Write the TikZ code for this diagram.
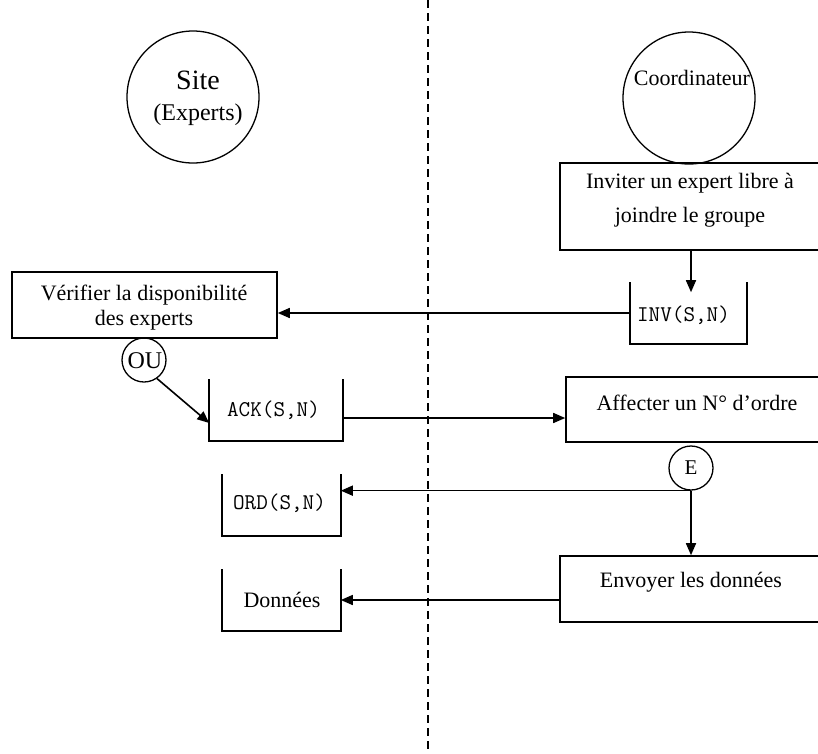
\documentclass[tikz,border=0pt]{standalone}
\usepackage{fontspec}
\setmainfont{Liberation Serif}
\usetikzlibrary{arrows.meta,calc}
\begin{document}
\begin{tikzpicture}[x=1pt,y=-1pt,
  line width=1.6pt,
  box/.style={draw, rectangle, inner sep=0pt},
  openbox/.style={rectangle, inner sep=0pt},
  lbl/.style={inner sep=0pt, align=center, font=\fontsize{22}{25}\selectfont},
  msg/.style={inner sep=0pt, font=\fontsize{22.5}{25}\selectfont\ttfamily},
  circ/.style={draw, circle, inner sep=0pt, line width=1.3pt},
  arr/.style={-{Triangle[length=12pt,width=10pt]}},
  lane/.style={dash pattern=on 8pt off 5pt, line width=1.4pt}]
\useasboundingbox (0,0) rectangle (818,753);
\clip (0,0) rectangle (818,753);

% swimlane separator
\coordinate (lanetop) at (428,0);
\coordinate (lanebot) at (428,753);
\draw[lane] (lanetop) -- (lanebot);

% actors
\node[circ, minimum size=132pt] (site) at (193,97) {};
\node[inner sep=0pt, font=\fontsize{28}{30}\selectfont] (sitetxt) at (198,80) {Site};
\node[inner sep=0pt, font=\fontsize{24}{26}\selectfont] (exptxt) at (198,115) {(Experts)};
\node[circ, minimum size=132pt] (coord) at (689,98) {};
\node[lbl] (coordtxt) at (692,78) {Coordinateur};

% activities
\node[box, minimum width=262pt, minimum height=87pt] (invite) at (691,206.5) {};
\node[lbl, font=\fontsize{22}{34}\selectfont] (invitetxt) at (690,200) {Inviter un expert libre à\\joindre le groupe};
\node[box, minimum width=265pt, minimum height=66pt] (verif) at (144.5,305) {};
\node[lbl] (veriftxt) at (144,308) {Vérifier la disponibilité\\des experts};
\node[box, minimum width=256pt, minimum height=65pt] (aff) at (694,409.5) {};
\node[lbl] (afftxt) at (697,403) {Affecter un N° d’ordre};
\node[box, minimum width=262pt, minimum height=66pt] (env) at (691,589) {};
\node[lbl] (envtxt) at (691,582) {Envoyer les données};

% messages (open-top boxes)
\node[openbox, minimum width=115pt, minimum height=60pt] (inv) at (688.5,313) {};
\node[msg] (invtxt) at (683.5,315) {INV(S,N)};
\node[openbox, minimum width=132pt, minimum height=60pt] (ack) at (276,410) {};
\node[msg] (acktxt) at (273.5,410) {ACK(S,N)};
\node[openbox, minimum width=117pt, minimum height=60pt] (ord) at (281.5,505) {};
\node[msg] (ordtxt) at (279.5,503) {ORD(S,N)};
\node[openbox, minimum width=117pt, minimum height=60pt] (don) at (281.5,600) {};
\node[lbl] (dontxt) at (282,600) {Données};
\foreach \n in {inv,ack,ord,don}
  \draw (\n.north west) -- (\n.south west) -- (\n.south east) -- (\n.north east);

% connectors
\node[circ, minimum size=44pt] (ou) at (144,360) {};
\node[inner sep=0pt, font=\fontsize{24}{26}\selectfont] (outxt) at (145,361) {OU};
\node[circ, minimum size=44pt] (e) at (691,468) {};
\node[inner sep=0pt, font=\fontsize{21}{23}\selectfont] (etxt) at (691,468) {E};

% flows
\coordinate (invtip) at ($(inv.north)+(0,10)$);
\draw[arr] (invite.south) -- (invite.south |- invtip);
\draw[arr] (inv.west) -- (inv.west -| verif.east);
\coordinate (ackin) at ($(ack.west)+(0,13)$);
\draw[arr] (ou.-55) -- (ackin);
\coordinate (ackout) at ($(ack.east)+(0,8)$);
\draw[arr] (ackout) -- (ackout -| aff.west);
\draw[arr] (e.south) -- (e.south -| ord.east);
\draw[arr] (e.south) -- (e.south |- env.north);
\draw[arr] (env.west |- don.center) -- (don.east);
\end{tikzpicture}
\end{document}
